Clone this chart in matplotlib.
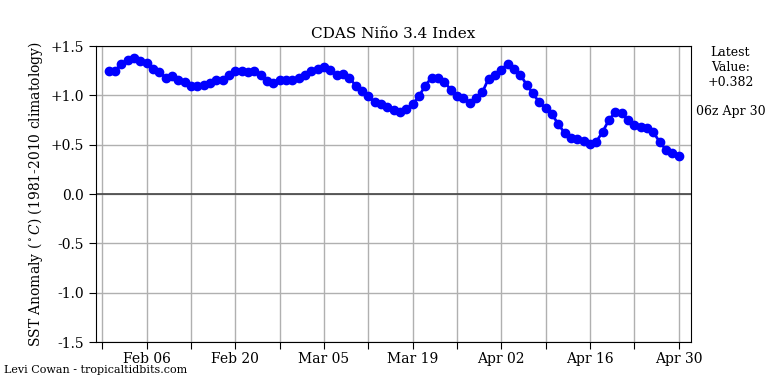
import numpy as np
import matplotlib
matplotlib.use('Agg')
import matplotlib.pyplot as plt

plt.rcParams['font.family'] = 'DejaVu Serif'
plt.rcParams['mathtext.fontset'] = 'dejavuserif'

# daily CDAS Nino 3.4 anomaly, Jan 31 - Apr 30 2024
dates = np.arange('2024-01-31', '2024-05-01', dtype='datetime64[D]').astype('O')
anom = [1.25, 1.25, 1.32, 1.36, 1.38, 1.35, 1.33, 1.27, 1.24, 1.18,
        1.20, 1.16, 1.14, 1.10, 1.10, 1.11, 1.13, 1.16, 1.16, 1.21,
        1.25, 1.25, 1.24, 1.25, 1.21, 1.15, 1.13, 1.16, 1.16, 1.16,
        1.18, 1.21, 1.25, 1.27, 1.29, 1.26, 1.21, 1.22, 1.18, 1.10,
        1.04, 0.99, 0.93, 0.91, 0.88, 0.85, 0.83, 0.86, 0.91, 0.99,
        1.10, 1.18, 1.18, 1.14, 1.06, 0.99, 0.97, 0.92, 0.97, 1.03,
        1.17, 1.21, 1.26, 1.32, 1.27, 1.21, 1.11, 1.02, 0.93, 0.87,
        0.81, 0.71, 0.62, 0.57, 0.56, 0.54, 0.51, 0.53, 0.63, 0.75,
        0.83, 0.82, 0.75, 0.70, 0.68, 0.67, 0.63, 0.53, 0.45, 0.42,
        0.382]

# weekly ticks, every other one labelled
xticks = np.arange('2024-01-30', '2024-05-01', 7, dtype='datetime64[D]').astype('O')
yticks = [1.5, 1.0, 0.5, 0.0, -0.5, -1.0, -1.5]
ylabels = ['+1.5', '+1.0', '+0.5', '0.0', '-0.5', '-1.0', '-1.5']

fig = plt.figure(figsize=(7.68, 3.84), dpi=100)
ax = fig.add_axes([0.125, 0.109, 0.775, 0.771])

ax.plot(dates, anom, color='blue', lw=2, marker='o', ms=6, zorder=3)
ax.axhline(0, color='#444444', lw=1.2, zorder=2)

ax.set_xlim(np.datetime64('2024-01-29').astype('O'), np.datetime64('2024-05-02').astype('O'))
ax.set_ylim(-1.5, 1.5)

ax.set_xticks(xticks)
ax.set_xticklabels([d.strftime('%b %d') if i % 2 == 1 else '' for i, d in enumerate(xticks)])
ax.set_yticks(yticks)
ax.set_yticklabels(ylabels)
ax.tick_params(labelsize=10, length=5)
ax.tick_params(axis='x', pad=2)
ax.grid(True, color='#b0b0b0', lw=1)
ax.set_axisbelow(True)

ax.set_title('CDAS Niño 3.4 Index', fontsize=11)
ax.set_ylabel('SST Anomaly ($^\\circ C$) (1981-2010 climatology)', fontsize=10)

fig.text(0.951, 0.88, 'Latest\nValue:\n+0.382', ha='center', va='top', fontsize=9)
fig.text(0.951, 0.71, '06z Apr 30', ha='center', va='center', fontsize=9)
fig.text(0.005, 0.036, 'Levi Cowan - tropicaltidbits.com', ha='left', va='center', fontsize=8)

fig.savefig('out.png', dpi=100)
